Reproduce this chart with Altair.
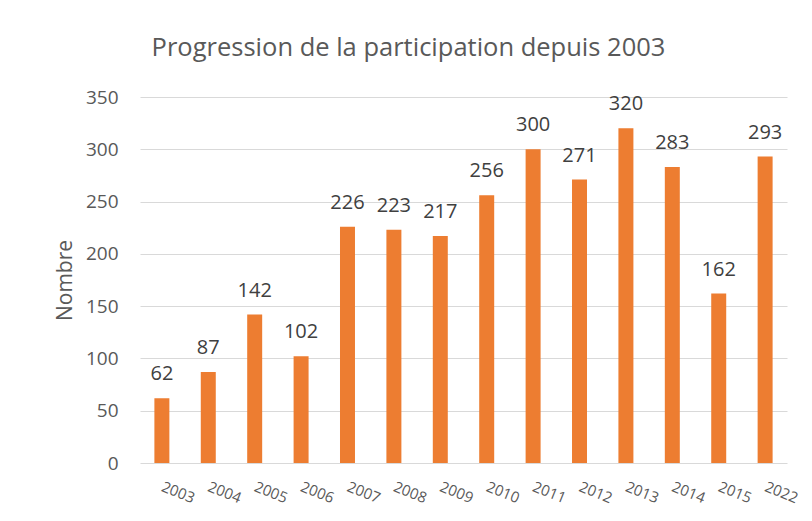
import altair as alt
import pandas as pd

years = ["2003", "2004", "2005", "2006", "2007", "2008", "2009", "2010",
         "2011", "2012", "2013", "2014", "2015", "2022"]
values = [62, 87, 142, 102, 226, 223, 217, 256, 300, 271, 320, 283, 162, 293]
y_ticks = [0, 50, 100, 150, 200, 250, 300, 350]

df = pd.DataFrame({"annee": years, "nombre": values})

FONT = "Open Sans"

x = alt.X("annee:N", sort=years, title=None,
          scale=alt.Scale(type="band", paddingInner=0.677, paddingOuter=0.31),
          axis=alt.Axis(labelAngle=22, labelAlign="left", labelBaseline="top",
                        labelPadding=16, labelOffset=3, ticks=False, domain=False,
                        labelFontSize=15, labelColor="#595959", labelFont=FONT))
y = alt.Y("nombre:Q", title="Nombre",
          scale=alt.Scale(domain=[0, 350], nice=False),
          axis=alt.Axis(values=y_ticks, ticks=False, domain=False,
                        labelPadding=22, labelFontSize=19, labelColor="#595959",
                        labelFont=FONT, gridColor="#d9d9d9", gridWidth=1,
                        titleFontSize=21, titleFontWeight="normal",
                        titleColor="#595959", titleFont=FONT, titlePadding=10))

base = alt.Chart(df).encode(x=x, y=y)
bars = base.mark_bar(color="#ED7D31")
labels = base.mark_text(baseline="alphabetic", dy=-18, fontSize=20,
                        color="#404040", font=FONT).encode(
    text=alt.Text("nombre:Q"))

chart = (bars + labels).properties(
    width=647, height=366,
    padding={"left": 132, "top": 89, "right": 17, "bottom": 48},
    autosize=alt.AutoSizeParams(type="none"),
    background="white",
    title=alt.TitleParams("Progression de la participation depuis 2003",
                          fontSize=25.5, fontWeight="normal", color="#595959",
                          font=FONT, offset=27, dx=-55),
).configure_view(stroke=None)

chart.save("out.html", embed_options={"renderer": "svg", "actions": False})
